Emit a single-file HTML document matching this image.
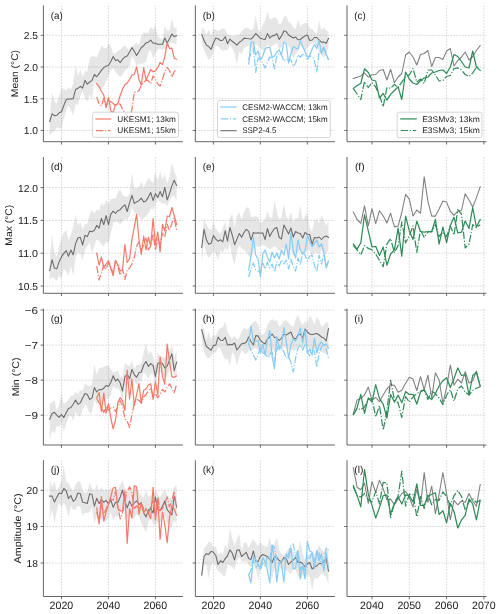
<!DOCTYPE html>
<html><head><meta charset="utf-8"><title>Figure</title>
<style>html,body{margin:0;padding:0;background:#fff;}body{width:500px;height:614px;overflow:hidden;font-family:"Liberation Sans",sans-serif;}svg{display:block;}</style>
</head><body>
<svg width="500" height="614" viewBox="0 0 500 614" font-family="'Liberation Sans', sans-serif">
<g style="will-change:transform;text-rendering:geometricPrecision">
<g id="p_a">
<clipPath id="c_a"><rect x="43.4" y="5.4" width="139.5" height="136.3"/></clipPath>
<g clip-path="url(#c_a)">
<line x1="61.48" y1="5.4" x2="61.48" y2="141.7" stroke="#c4c4c4" stroke-width="0.66" stroke-dasharray="1.7 1.25"/>
<line x1="108.45" y1="5.4" x2="108.45" y2="141.7" stroke="#c4c4c4" stroke-width="0.66" stroke-dasharray="1.7 1.25"/>
<line x1="155.42" y1="5.4" x2="155.42" y2="141.7" stroke="#c4c4c4" stroke-width="0.66" stroke-dasharray="1.7 1.25"/>
<line x1="43.4" y1="35.30" x2="182.9" y2="35.30" stroke="#c4c4c4" stroke-width="0.66" stroke-dasharray="1.7 1.25"/>
<line x1="43.4" y1="67.00" x2="182.9" y2="67.00" stroke="#c4c4c4" stroke-width="0.66" stroke-dasharray="1.7 1.25"/>
<line x1="43.4" y1="98.75" x2="182.9" y2="98.75" stroke="#c4c4c4" stroke-width="0.66" stroke-dasharray="1.7 1.25"/>
<line x1="43.4" y1="130.45" x2="182.9" y2="130.45" stroke="#c4c4c4" stroke-width="0.66" stroke-dasharray="1.7 1.25"/>
<path d="M49.7 117.0 L52.1 92.5 L54.4 101.6 L56.8 103.7 L59.1 96.0 L61.5 88.3 L63.8 89.0 L66.2 90.4 L68.5 86.9 L70.9 89.7 L73.2 83.4 L75.6 64.9 L77.9 75.9 L80.3 69.1 L82.6 77.2 L85.0 70.4 L87.3 72.0 L89.7 58.2 L92.0 56.2 L94.4 56.5 L96.7 57.2 L99.1 52.0 L101.4 45.2 L103.8 47.8 L106.1 48.4 L108.5 43.6 L110.8 46.0 L113.2 53.2 L115.5 53.4 L117.8 51.0 L120.2 49.4 L122.5 47.0 L124.9 45.5 L127.2 48.1 L129.6 50.0 L131.9 47.1 L134.3 44.3 L136.6 42.9 L139.0 45.0 L141.3 35.9 L143.7 32.4 L146.0 32.4 L148.4 33.1 L150.7 26.8 L153.1 29.6 L155.4 25.4 L157.8 36.6 L160.1 38.0 L162.5 40.1 L164.8 26.1 L167.2 31.0 L169.5 30.3 L171.9 18.4 L174.2 28.2 L176.6 27.5 L176.6 45.0 L174.2 43.6 L171.9 42.9 L169.5 43.6 L167.2 47.1 L164.8 49.2 L162.5 49.9 L160.1 48.5 L157.8 49.2 L155.4 53.4 L153.1 58.3 L150.7 49.9 L148.4 52.0 L146.0 61.8 L143.7 63.2 L141.3 63.9 L139.0 63.2 L136.6 66.0 L134.3 59.7 L131.9 56.2 L129.6 66.0 L127.2 69.0 L124.9 70.3 L122.5 74.5 L120.2 77.0 L117.8 74.6 L115.5 71.7 L113.2 68.2 L110.8 70.0 L108.5 76.0 L106.1 81.0 L103.8 86.5 L101.4 88.0 L99.1 89.0 L96.7 85.0 L94.4 82.0 L92.0 99.5 L89.7 94.5 L87.3 101.5 L85.0 98.0 L82.6 91.0 L80.3 96.0 L77.9 105.0 L75.6 104.0 L73.2 115.5 L70.9 110.0 L68.5 105.0 L66.2 110.7 L63.8 118.4 L61.5 128.9 L59.1 128.2 L56.8 127.5 L54.4 131.0 L52.1 132.4 L49.7 135.9 Z" fill="#808080" fill-opacity="0.2"/>
<path d="M49.7 121.5 L52.1 113.8 L54.4 115.6 L56.8 115.3 L59.1 112.8 L61.5 111.7 L63.8 105.5 L66.2 99.6 L68.5 99.0 L70.9 99.0 L73.2 98.6 L75.6 89.4 L77.9 88.3 L80.3 86.3 L82.6 88.1 L85.0 80.4 L87.3 84.2 L89.7 82.0 L92.0 80.4 L94.4 74.5 L96.7 76.8 L99.1 73.6 L101.4 70.4 L103.8 67.5 L106.1 66.1 L108.5 65.5 L110.8 61.5 L113.2 56.6 L115.5 60.6 L117.8 59.8 L120.2 62.7 L122.5 59.2 L124.9 57.1 L127.2 56.0 L129.6 52.0 L131.9 47.5 L134.3 51.3 L136.6 55.5 L139.0 51.6 L141.3 47.5 L143.7 45.7 L146.0 42.9 L148.4 42.2 L150.7 40.1 L153.1 43.3 L155.4 43.3 L157.8 44.3 L160.1 44.3 L162.5 44.3 L164.8 38.0 L167.2 42.9 L169.5 38.7 L171.9 34.1 L174.2 36.6 L176.6 35.6" fill="none" stroke="#6c6c6c" stroke-width="1.08" stroke-linejoin="round" stroke-linecap="square"/>
<path d="M96.7 83.7 L99.1 86.6 L101.4 91.3 L103.8 95.0 L106.1 107.5 L108.5 97.3 L110.8 111.0 L113.2 112.4 L115.5 104.7 L117.8 104.0 L120.2 95.4 L122.5 89.3 L124.9 84.8 L127.2 83.1 L129.6 79.5 L131.9 75.2 L134.3 74.5 L136.6 66.8 L139.0 79.8 L141.3 85.1 L143.7 67.5 L146.0 80.0 L148.4 74.8 L150.7 69.6 L153.1 71.7 L155.4 70.9 L157.8 67.4 L160.1 62.5 L162.5 64.6 L164.8 56.9 L167.2 42.9 L169.5 48.5 L171.9 48.1 L174.2 58.3 L176.6 59.3" fill="none" stroke="#f5796a" stroke-width="1.22" stroke-linejoin="round" stroke-linecap="square"/>
<path d="M96.7 97.0 L99.1 104.0 L101.4 106.1 L103.8 98.4 L106.1 106.8 L108.5 99.8 L110.8 101.9 L113.2 103.3 L115.5 106.1 L117.8 104.0 L120.2 104.0 L122.5 109.6 L124.9 112.4 L127.2 116.0 L129.6 118.0 L131.9 109.6 L134.3 92.1 L136.6 92.1 L139.0 90.7 L141.3 85.1 L143.7 82.3 L146.0 80.2 L148.4 80.9 L150.7 83.7 L153.1 76.0 L155.4 79.0 L157.8 84.0 L160.1 86.0 L162.5 79.5 L164.8 71.6 L167.2 67.4 L169.5 70.5 L171.9 76.9 L174.2 71.6 L176.6 69.5" fill="none" stroke="#f5796a" stroke-width="1.22" stroke-linejoin="round" stroke-dasharray="7.3 1.8 1.15 1.8"/>
</g>
<path d="M43.40 5.4 V141.70 H182.9" fill="none" stroke="#4a4a4a" stroke-width="0.85"/>
<line x1="61.48" y1="141.7" x2="61.48" y2="144.5" stroke="#4a4a4a" stroke-width="0.8"/>
<line x1="108.45" y1="141.7" x2="108.45" y2="144.5" stroke="#4a4a4a" stroke-width="0.8"/>
<line x1="155.42" y1="141.7" x2="155.42" y2="144.5" stroke="#4a4a4a" stroke-width="0.8"/>
<line x1="40.6" y1="35.30" x2="43.4" y2="35.30" stroke="#4a4a4a" stroke-width="0.8"/>
<text x="38.0" y="39.2" font-size="10.1" text-anchor="end" fill="#1a1a1a" textLength="14.3" lengthAdjust="spacingAndGlyphs">2.5</text>
<line x1="40.6" y1="67.00" x2="43.4" y2="67.00" stroke="#4a4a4a" stroke-width="0.8"/>
<text x="38.0" y="70.9" font-size="10.1" text-anchor="end" fill="#1a1a1a" textLength="14.3" lengthAdjust="spacingAndGlyphs">2.0</text>
<line x1="40.6" y1="98.75" x2="43.4" y2="98.75" stroke="#4a4a4a" stroke-width="0.8"/>
<text x="38.0" y="102.7" font-size="10.1" text-anchor="end" fill="#1a1a1a" textLength="14.3" lengthAdjust="spacingAndGlyphs">1.5</text>
<line x1="40.6" y1="130.45" x2="43.4" y2="130.45" stroke="#4a4a4a" stroke-width="0.8"/>
<text x="38.0" y="134.3" font-size="10.1" text-anchor="end" fill="#1a1a1a" textLength="14.3" lengthAdjust="spacingAndGlyphs">1.0</text>
<text x="50.7" y="18.6" font-size="10.1" fill="#1a1a1a" textLength="12.0" lengthAdjust="spacingAndGlyphs">(a)</text>
<text transform="translate(18.1 73.6) rotate(-90)" font-size="9.7" text-anchor="middle" fill="#1a1a1a" textLength="47.3" lengthAdjust="spacingAndGlyphs">Mean (°C)</text>
</g>
<g id="p_b">
<clipPath id="c_b"><rect x="195.3" y="5.4" width="139.5" height="136.3"/></clipPath>
<g clip-path="url(#c_b)">
<line x1="213.43" y1="5.4" x2="213.43" y2="141.7" stroke="#c4c4c4" stroke-width="0.66" stroke-dasharray="1.7 1.25"/>
<line x1="260.40" y1="5.4" x2="260.40" y2="141.7" stroke="#c4c4c4" stroke-width="0.66" stroke-dasharray="1.7 1.25"/>
<line x1="307.37" y1="5.4" x2="307.37" y2="141.7" stroke="#c4c4c4" stroke-width="0.66" stroke-dasharray="1.7 1.25"/>
<line x1="195.3" y1="35.30" x2="334.9" y2="35.30" stroke="#c4c4c4" stroke-width="0.66" stroke-dasharray="1.7 1.25"/>
<line x1="195.3" y1="67.00" x2="334.9" y2="67.00" stroke="#c4c4c4" stroke-width="0.66" stroke-dasharray="1.7 1.25"/>
<line x1="195.3" y1="98.75" x2="334.9" y2="98.75" stroke="#c4c4c4" stroke-width="0.66" stroke-dasharray="1.7 1.25"/>
<line x1="195.3" y1="130.45" x2="334.9" y2="130.45" stroke="#c4c4c4" stroke-width="0.66" stroke-dasharray="1.7 1.25"/>
<path d="M201.7 27.6 L204.0 29.7 L206.4 34.6 L208.7 29.7 L211.1 36.0 L213.4 29.0 L215.8 29.7 L218.1 31.1 L220.5 29.7 L222.8 28.3 L225.2 29.7 L227.5 34.6 L229.9 35.3 L232.2 36.0 L234.6 36.0 L236.9 35.3 L239.3 34.6 L241.6 31.1 L244.0 29.0 L246.3 27.5 L248.7 28.4 L251.0 30.2 L253.4 29.3 L255.7 14.9 L258.1 29.3 L260.4 32.0 L262.8 24.8 L265.1 20.3 L267.4 11.8 L269.8 19.4 L272.1 18.5 L274.5 17.2 L276.8 18.5 L279.2 24.8 L281.5 23.0 L283.9 16.7 L286.2 15.8 L288.6 22.1 L290.9 23.0 L293.3 27.5 L295.6 29.3 L298.0 19.8 L300.3 26.6 L302.7 23.9 L305.0 23.0 L307.4 23.0 L309.7 28.4 L312.1 29.3 L314.4 32.0 L316.8 34.7 L319.1 20.8 L321.5 30.2 L323.8 27.5 L326.2 30.2 L328.5 32.0 L328.5 48.0 L326.2 54.0 L323.8 58.0 L321.5 55.0 L319.1 52.0 L316.8 47.0 L314.4 43.0 L312.1 43.5 L309.7 45.0 L307.4 47.5 L305.0 52.0 L302.7 48.0 L300.3 45.0 L298.0 51.0 L295.6 54.0 L293.3 58.0 L290.9 52.5 L288.6 46.0 L286.2 42.0 L283.9 41.0 L281.5 47.0 L279.2 50.0 L276.8 43.0 L274.5 45.0 L272.1 46.0 L269.8 48.0 L267.4 44.0 L265.1 52.0 L262.8 50.0 L260.4 49.0 L258.1 46.0 L255.7 44.0 L253.4 48.0 L251.0 47.0 L248.7 46.0 L246.3 46.5 L244.0 47.9 L241.6 54.2 L239.3 51.4 L236.9 64.7 L234.6 52.8 L232.2 48.6 L229.9 45.1 L227.5 50.0 L225.2 50.0 L222.8 50.7 L220.5 49.3 L218.1 46.5 L215.8 45.1 L213.4 51.4 L211.1 57.7 L208.7 59.8 L206.4 55.6 L204.0 50.0 L201.7 41.6 Z" fill="#808080" fill-opacity="0.2"/>
<path d="M201.7 34.6 L204.0 40.2 L206.4 45.1 L208.7 46.5 L211.1 49.3 L213.4 43.0 L215.8 38.1 L218.1 38.8 L220.5 40.5 L222.8 40.2 L225.2 36.7 L227.5 43.7 L229.9 39.1 L232.2 41.3 L234.6 43.0 L236.9 45.1 L239.3 42.3 L241.6 40.9 L244.0 38.1 L246.3 38.5 L248.7 38.8 L251.0 39.0 L253.4 36.8 L255.7 33.5 L258.1 35.8 L260.4 38.3 L262.8 39.0 L265.1 39.5 L267.4 33.6 L269.8 38.1 L272.1 35.9 L274.5 35.4 L276.8 33.6 L279.2 39.5 L281.5 35.9 L283.9 30.9 L286.2 31.6 L288.6 35.0 L290.9 36.5 L293.3 38.0 L295.6 37.0 L298.0 39.8 L300.3 39.5 L302.7 37.5 L305.0 36.0 L307.4 35.0 L309.7 40.5 L312.1 40.0 L314.4 37.5 L316.8 37.5 L319.1 40.0 L321.5 42.2 L323.8 42.0 L326.2 43.2 L328.5 38.5" fill="none" stroke="#6c6c6c" stroke-width="1.08" stroke-linejoin="round" stroke-linecap="square"/>
<path d="M248.7 64.0 L251.0 42.0 L253.4 42.0 L255.7 55.0 L258.1 51.0 L260.4 60.0 L262.8 56.0 L265.1 49.0 L267.4 47.5 L269.8 47.5 L272.1 57.0 L274.5 56.0 L276.8 52.0 L279.2 50.0 L281.5 55.0 L283.9 42.0 L286.2 43.5 L288.6 63.0 L290.9 54.0 L293.3 46.5 L295.6 48.0 L298.0 49.0 L300.3 40.5 L302.7 46.5 L305.0 51.5 L307.4 57.0 L309.7 55.5 L312.1 49.0 L314.4 44.5 L316.8 48.5 L319.1 40.5 L321.5 53.5 L323.8 47.0 L326.2 54.0 L328.5 59.5" fill="none" stroke="#85ccf5" stroke-width="1.22" stroke-linejoin="round" stroke-linecap="square"/>
<path d="M248.7 60.0 L251.0 53.0 L253.4 48.0 L255.7 72.5 L258.1 58.0 L260.4 60.0 L262.8 63.0 L265.1 68.0 L267.4 62.0 L269.8 57.0 L272.1 58.0 L274.5 69.0 L276.8 56.0 L279.2 53.0 L281.5 55.0 L283.9 61.0 L286.2 59.0 L288.6 60.0 L290.9 60.0 L293.3 66.5 L295.6 63.0 L298.0 55.0 L300.3 57.0 L302.7 54.5 L305.0 55.0 L307.4 59.5 L309.7 56.0 L312.1 57.0 L314.4 60.5 L316.8 72.0 L319.1 52.0 L321.5 51.0 L323.8 48.0 L326.2 55.0 L328.5 60.0" fill="none" stroke="#85ccf5" stroke-width="1.22" stroke-linejoin="round" stroke-dasharray="7.3 1.8 1.15 1.8"/>
</g>
<path d="M195.35 5.4 V141.70 H334.9" fill="none" stroke="#4a4a4a" stroke-width="0.85"/>
<line x1="213.43" y1="141.7" x2="213.43" y2="144.5" stroke="#4a4a4a" stroke-width="0.8"/>
<line x1="260.40" y1="141.7" x2="260.40" y2="144.5" stroke="#4a4a4a" stroke-width="0.8"/>
<line x1="307.37" y1="141.7" x2="307.37" y2="144.5" stroke="#4a4a4a" stroke-width="0.8"/>
<line x1="192.6" y1="35.30" x2="195.3" y2="35.30" stroke="#4a4a4a" stroke-width="0.8"/>
<line x1="192.6" y1="67.00" x2="195.3" y2="67.00" stroke="#4a4a4a" stroke-width="0.8"/>
<line x1="192.6" y1="98.75" x2="195.3" y2="98.75" stroke="#4a4a4a" stroke-width="0.8"/>
<line x1="192.6" y1="130.45" x2="195.3" y2="130.45" stroke="#4a4a4a" stroke-width="0.8"/>
<text x="202.7" y="18.6" font-size="10.1" fill="#1a1a1a" textLength="12.2" lengthAdjust="spacingAndGlyphs">(b)</text>
</g>
<g id="p_c">
<clipPath id="c_c"><rect x="347.0" y="5.4" width="139.5" height="136.3"/></clipPath>
<g clip-path="url(#c_c)">
<line x1="371.99" y1="5.4" x2="371.99" y2="141.7" stroke="#c4c4c4" stroke-width="0.66" stroke-dasharray="1.7 1.25"/>
<line x1="409.29" y1="5.4" x2="409.29" y2="141.7" stroke="#c4c4c4" stroke-width="0.66" stroke-dasharray="1.7 1.25"/>
<line x1="446.59" y1="5.4" x2="446.59" y2="141.7" stroke="#c4c4c4" stroke-width="0.66" stroke-dasharray="1.7 1.25"/>
<line x1="483.89" y1="5.4" x2="483.89" y2="141.7" stroke="#c4c4c4" stroke-width="0.66" stroke-dasharray="1.7 1.25"/>
<line x1="347.0" y1="35.30" x2="486.5" y2="35.30" stroke="#c4c4c4" stroke-width="0.66" stroke-dasharray="1.7 1.25"/>
<line x1="347.0" y1="67.00" x2="486.5" y2="67.00" stroke="#c4c4c4" stroke-width="0.66" stroke-dasharray="1.7 1.25"/>
<line x1="347.0" y1="98.75" x2="486.5" y2="98.75" stroke="#c4c4c4" stroke-width="0.66" stroke-dasharray="1.7 1.25"/>
<line x1="347.0" y1="130.45" x2="486.5" y2="130.45" stroke="#c4c4c4" stroke-width="0.66" stroke-dasharray="1.7 1.25"/>
<path d="M353.3 78.5 L357.1 77.2 L360.8 76.0 L364.5 73.0 L368.3 77.2 L372.0 74.8 L375.7 74.5 L379.5 70.5 L383.2 69.5 L386.9 80.0 L390.6 69.2 L394.4 82.8 L398.1 77.0 L401.8 73.5 L405.6 55.0 L409.3 52.0 L413.0 57.0 L416.8 65.0 L420.5 54.5 L424.2 53.5 L427.9 50.5 L431.7 66.5 L435.4 57.5 L439.1 57.5 L442.9 59.4 L446.6 51.0 L450.3 48.5 L454.0 66.0 L457.8 60.5 L461.5 57.0 L465.2 52.0 L469.0 60.0 L472.7 56.5 L476.4 50.5 L480.2 45.5" fill="none" stroke="#808080" stroke-width="1.08" stroke-linejoin="round" stroke-linecap="square"/>
<path d="M353.3 88.5 L357.1 85.5 L360.8 83.5 L364.5 68.8 L368.3 72.5 L372.0 80.0 L375.7 81.0 L379.5 98.0 L383.2 93.4 L386.9 100.2 L390.6 94.4 L394.4 90.5 L398.1 86.9 L401.8 99.5 L405.6 72.0 L409.3 79.0 L413.0 83.0 L416.8 84.5 L420.5 80.5 L424.2 78.0 L427.9 77.0 L431.7 73.0 L435.4 72.0 L439.1 70.5 L442.9 70.0 L446.6 73.5 L450.3 67.0 L454.0 54.5 L457.8 56.5 L461.5 61.5 L465.2 67.0 L469.0 68.0 L472.7 51.0 L476.4 67.0 L480.2 70.5" fill="none" stroke="#2e8b57" stroke-width="1.22" stroke-linejoin="round" stroke-linecap="square"/>
<path d="M353.3 88.5 L357.1 94.0 L360.8 99.5 L364.5 81.5 L368.3 87.5 L372.0 82.5 L375.7 87.0 L379.5 95.5 L383.2 106.7 L386.9 87.6 L390.6 88.3 L394.4 84.4 L398.1 87.6 L401.8 82.2 L405.6 76.5 L409.3 75.0 L413.0 68.5 L416.8 82.0 L420.5 79.0 L424.2 83.5 L427.9 70.0 L431.7 70.0 L435.4 75.0 L439.1 81.0 L442.9 80.5 L446.6 76.5 L450.3 75.5 L454.0 68.5 L457.8 67.8 L461.5 70.0 L465.2 74.5 L469.0 76.5 L472.7 73.0 L476.4 67.5 L480.2 67.0" fill="none" stroke="#2e8b57" stroke-width="1.22" stroke-linejoin="round" stroke-dasharray="7.3 1.8 1.15 1.8"/>
</g>
<path d="M347.00 5.4 V141.70 H486.5" fill="none" stroke="#4a4a4a" stroke-width="0.85"/>
<line x1="371.99" y1="141.7" x2="371.99" y2="144.5" stroke="#4a4a4a" stroke-width="0.8"/>
<line x1="409.29" y1="141.7" x2="409.29" y2="144.5" stroke="#4a4a4a" stroke-width="0.8"/>
<line x1="446.59" y1="141.7" x2="446.59" y2="144.5" stroke="#4a4a4a" stroke-width="0.8"/>
<line x1="483.89" y1="141.7" x2="483.89" y2="144.5" stroke="#4a4a4a" stroke-width="0.8"/>
<line x1="344.2" y1="35.30" x2="347.0" y2="35.30" stroke="#4a4a4a" stroke-width="0.8"/>
<line x1="344.2" y1="67.00" x2="347.0" y2="67.00" stroke="#4a4a4a" stroke-width="0.8"/>
<line x1="344.2" y1="98.75" x2="347.0" y2="98.75" stroke="#4a4a4a" stroke-width="0.8"/>
<line x1="344.2" y1="130.45" x2="347.0" y2="130.45" stroke="#4a4a4a" stroke-width="0.8"/>
<text x="354.3" y="18.6" font-size="10.1" fill="#1a1a1a" textLength="11.4" lengthAdjust="spacingAndGlyphs">(c)</text>
</g>
<g id="p_d">
<clipPath id="c_d"><rect x="43.4" y="157.0" width="139.5" height="136.3"/></clipPath>
<g clip-path="url(#c_d)">
<line x1="61.48" y1="157.0" x2="61.48" y2="293.3" stroke="#c4c4c4" stroke-width="0.66" stroke-dasharray="1.7 1.25"/>
<line x1="108.45" y1="157.0" x2="108.45" y2="293.3" stroke="#c4c4c4" stroke-width="0.66" stroke-dasharray="1.7 1.25"/>
<line x1="155.42" y1="157.0" x2="155.42" y2="293.3" stroke="#c4c4c4" stroke-width="0.66" stroke-dasharray="1.7 1.25"/>
<line x1="43.4" y1="187.60" x2="182.9" y2="187.60" stroke="#c4c4c4" stroke-width="0.66" stroke-dasharray="1.7 1.25"/>
<line x1="43.4" y1="220.40" x2="182.9" y2="220.40" stroke="#c4c4c4" stroke-width="0.66" stroke-dasharray="1.7 1.25"/>
<line x1="43.4" y1="253.20" x2="182.9" y2="253.20" stroke="#c4c4c4" stroke-width="0.66" stroke-dasharray="1.7 1.25"/>
<line x1="43.4" y1="286.00" x2="182.9" y2="286.00" stroke="#c4c4c4" stroke-width="0.66" stroke-dasharray="1.7 1.25"/>
<path d="M49.7 261.8 L52.1 234.5 L54.4 253.4 L56.8 256.2 L59.1 246.4 L61.5 238.7 L63.8 232.4 L66.2 230.3 L68.5 240.1 L70.9 234.5 L73.2 226.8 L75.6 214.2 L77.9 225.4 L80.3 221.9 L82.6 229.6 L85.0 224.0 L87.3 224.0 L89.7 214.2 L92.0 210.0 L94.4 214.0 L96.7 209.0 L99.1 211.0 L101.4 203.0 L103.8 206.0 L106.1 200.0 L108.5 204.0 L110.8 199.0 L113.2 198.5 L115.5 198.5 L117.8 192.2 L120.2 189.4 L122.5 195.0 L124.9 196.4 L127.2 197.0 L129.6 193.6 L131.9 172.6 L134.3 188.0 L136.6 188.0 L139.0 187.3 L141.3 181.0 L143.7 188.0 L146.0 182.4 L148.4 177.5 L150.7 181.0 L153.1 183.1 L155.4 172.6 L157.8 180.3 L160.1 171.2 L162.5 179.6 L164.8 174.0 L167.2 183.8 L169.5 176.8 L171.9 162.8 L174.2 171.9 L176.6 176.8 L176.6 201.3 L174.2 195.7 L171.9 196.4 L169.5 200.6 L167.2 206.2 L164.8 202.7 L162.5 204.1 L160.1 202.0 L157.8 199.2 L155.4 204.8 L153.1 209.7 L150.7 208.3 L148.4 213.9 L146.0 216.0 L143.7 218.1 L141.3 220.2 L139.0 216.0 L136.6 213.9 L134.3 212.5 L131.9 207.6 L129.6 216.0 L127.2 220.2 L124.9 218.8 L122.5 221.6 L120.2 224.4 L117.8 222.3 L115.5 221.6 L113.2 223.0 L110.8 233.8 L108.5 243.6 L106.1 241.5 L103.8 246.4 L101.4 244.3 L99.1 240.8 L96.7 239.4 L94.4 245.0 L92.0 252.7 L89.7 242.2 L87.3 245.7 L85.0 250.6 L82.6 260.4 L80.3 253.4 L77.9 252.0 L75.6 257.6 L73.2 275.8 L70.9 266.0 L68.5 275.8 L66.2 271.6 L63.8 268.8 L61.5 278.6 L59.1 275.8 L56.8 281.0 L54.4 278.6 L52.1 277.0 L49.7 280.0 Z" fill="#808080" fill-opacity="0.2"/>
<path d="M49.7 270.5 L52.1 259.7 L54.4 268.1 L56.8 268.8 L59.1 261.8 L61.5 256.9 L63.8 253.4 L66.2 250.6 L68.5 256.2 L70.9 249.9 L73.2 254.8 L75.6 243.6 L77.9 238.0 L80.3 237.3 L82.6 245.0 L85.0 235.2 L87.3 236.6 L89.7 231.0 L92.0 231.7 L94.4 230.3 L96.7 225.4 L99.1 228.2 L101.4 218.4 L103.8 224.7 L106.1 215.6 L108.5 224.7 L110.8 214.2 L113.2 211.1 L115.5 213.5 L117.8 210.7 L120.2 209.7 L122.5 206.9 L124.9 204.8 L127.2 211.5 L129.6 202.7 L131.9 195.3 L134.3 203.4 L136.6 202.0 L139.0 200.6 L141.3 198.1 L143.7 202.0 L146.0 200.9 L148.4 197.1 L150.7 192.5 L153.1 200.6 L155.4 193.6 L157.8 197.5 L160.1 191.5 L162.5 196.7 L164.8 187.3 L167.2 199.9 L169.5 193.6 L171.9 185.9 L174.2 180.3 L176.6 185.5" fill="none" stroke="#6c6c6c" stroke-width="1.08" stroke-linejoin="round" stroke-linecap="square"/>
<path d="M96.7 253.3 L99.1 265.0 L101.4 257.0 L103.8 268.0 L106.1 264.0 L108.5 260.5 L110.8 268.5 L113.2 275.7 L115.5 260.3 L117.8 264.7 L120.2 271.0 L122.5 270.0 L124.9 244.5 L127.2 262.5 L129.6 258.5 L131.9 240.0 L134.3 227.0 L136.6 214.3 L139.0 240.0 L141.3 254.5 L143.7 236.0 L146.0 250.0 L148.4 237.0 L150.7 246.0 L153.1 218.5 L155.4 244.7 L157.8 232.0 L160.1 252.0 L162.5 224.3 L164.8 231.0 L167.2 216.0 L169.5 216.6 L171.9 207.5 L174.2 215.7 L176.6 224.3" fill="none" stroke="#f5796a" stroke-width="1.22" stroke-linejoin="round" stroke-linecap="square"/>
<path d="M96.7 266.0 L99.1 280.0 L101.4 273.0 L103.8 265.0 L106.1 269.0 L108.5 262.5 L110.8 267.0 L113.2 273.0 L115.5 261.0 L117.8 267.0 L120.2 275.0 L122.5 269.0 L124.9 279.5 L127.2 270.0 L129.6 268.0 L131.9 264.0 L134.3 257.0 L136.6 246.0 L139.0 242.0 L141.3 250.0 L143.7 245.0 L146.0 238.0 L148.4 250.0 L150.7 246.0 L153.1 234.0 L155.4 250.0 L157.8 238.0 L160.1 245.0 L162.5 233.0 L164.8 237.0 L167.2 224.0 L169.5 231.0 L171.9 223.0 L174.2 218.0 L176.6 230.0" fill="none" stroke="#f5796a" stroke-width="1.22" stroke-linejoin="round" stroke-dasharray="7.3 1.8 1.15 1.8"/>
</g>
<path d="M43.40 157.0 V293.30 H182.9" fill="none" stroke="#4a4a4a" stroke-width="0.85"/>
<line x1="61.48" y1="293.3" x2="61.48" y2="296.1" stroke="#4a4a4a" stroke-width="0.8"/>
<line x1="108.45" y1="293.3" x2="108.45" y2="296.1" stroke="#4a4a4a" stroke-width="0.8"/>
<line x1="155.42" y1="293.3" x2="155.42" y2="296.1" stroke="#4a4a4a" stroke-width="0.8"/>
<line x1="40.6" y1="187.60" x2="43.4" y2="187.60" stroke="#4a4a4a" stroke-width="0.8"/>
<text x="38.0" y="191.5" font-size="10.1" text-anchor="end" fill="#1a1a1a" textLength="20.0" lengthAdjust="spacingAndGlyphs">12.0</text>
<line x1="40.6" y1="220.40" x2="43.4" y2="220.40" stroke="#4a4a4a" stroke-width="0.8"/>
<text x="38.0" y="224.3" font-size="10.1" text-anchor="end" fill="#1a1a1a" textLength="20.0" lengthAdjust="spacingAndGlyphs">11.5</text>
<line x1="40.6" y1="253.20" x2="43.4" y2="253.20" stroke="#4a4a4a" stroke-width="0.8"/>
<text x="38.0" y="257.1" font-size="10.1" text-anchor="end" fill="#1a1a1a" textLength="20.0" lengthAdjust="spacingAndGlyphs">11.0</text>
<line x1="40.6" y1="286.00" x2="43.4" y2="286.00" stroke="#4a4a4a" stroke-width="0.8"/>
<text x="38.0" y="289.9" font-size="10.1" text-anchor="end" fill="#1a1a1a" textLength="20.0" lengthAdjust="spacingAndGlyphs">10.5</text>
<text x="50.7" y="170.2" font-size="10.1" fill="#1a1a1a" textLength="12.2" lengthAdjust="spacingAndGlyphs">(d)</text>
<text transform="translate(12.2 225.2) rotate(-90)" font-size="9.7" text-anchor="middle" fill="#1a1a1a" textLength="40.9" lengthAdjust="spacingAndGlyphs">Max (°C)</text>
</g>
<g id="p_e">
<clipPath id="c_e"><rect x="195.3" y="157.0" width="139.5" height="136.3"/></clipPath>
<g clip-path="url(#c_e)">
<line x1="213.43" y1="157.0" x2="213.43" y2="293.3" stroke="#c4c4c4" stroke-width="0.66" stroke-dasharray="1.7 1.25"/>
<line x1="260.40" y1="157.0" x2="260.40" y2="293.3" stroke="#c4c4c4" stroke-width="0.66" stroke-dasharray="1.7 1.25"/>
<line x1="307.37" y1="157.0" x2="307.37" y2="293.3" stroke="#c4c4c4" stroke-width="0.66" stroke-dasharray="1.7 1.25"/>
<line x1="195.3" y1="187.60" x2="334.9" y2="187.60" stroke="#c4c4c4" stroke-width="0.66" stroke-dasharray="1.7 1.25"/>
<line x1="195.3" y1="220.40" x2="334.9" y2="220.40" stroke="#c4c4c4" stroke-width="0.66" stroke-dasharray="1.7 1.25"/>
<line x1="195.3" y1="253.20" x2="334.9" y2="253.20" stroke="#c4c4c4" stroke-width="0.66" stroke-dasharray="1.7 1.25"/>
<line x1="195.3" y1="286.00" x2="334.9" y2="286.00" stroke="#c4c4c4" stroke-width="0.66" stroke-dasharray="1.7 1.25"/>
<path d="M201.7 241.0 L204.0 218.8 L206.4 224.4 L208.7 228.6 L211.1 230.0 L213.4 222.3 L215.8 228.6 L218.1 232.0 L220.5 234.0 L222.8 228.6 L225.2 221.6 L227.5 231.0 L229.9 218.0 L232.2 213.9 L234.6 228.0 L236.9 216.0 L239.3 212.5 L241.6 219.7 L244.0 212.1 L246.3 207.4 L248.7 207.4 L251.0 216.9 L253.4 216.9 L255.7 215.9 L258.1 217.8 L260.4 223.5 L262.8 221.6 L265.1 218.8 L267.4 211.2 L269.8 217.8 L272.1 216.9 L274.5 200.3 L276.8 211.2 L279.2 219.7 L281.5 216.9 L283.9 203.6 L286.2 215.9 L288.6 219.7 L290.9 211.7 L293.3 222.6 L295.6 217.8 L298.0 218.8 L300.3 205.5 L302.7 220.7 L305.0 215.9 L307.4 213.0 L309.7 228.0 L312.1 232.0 L314.4 220.7 L316.8 219.7 L319.1 223.5 L321.5 215.0 L323.8 220.7 L326.2 225.4 L328.5 221.6 L328.5 249.2 L326.2 254.0 L323.8 253.0 L321.5 250.0 L319.1 254.0 L316.8 253.0 L314.4 252.0 L312.1 258.0 L309.7 250.1 L307.4 251.0 L305.0 252.0 L302.7 255.0 L300.3 250.0 L298.0 253.0 L295.6 252.0 L293.3 256.0 L290.9 249.0 L288.6 254.0 L286.2 250.0 L283.9 248.0 L281.5 250.0 L279.2 251.0 L276.8 248.0 L274.5 246.3 L272.1 248.0 L269.8 249.2 L267.4 247.5 L265.1 246.0 L262.8 245.0 L260.4 246.0 L258.1 247.0 L255.7 246.0 L253.4 252.0 L251.0 257.7 L248.7 255.8 L246.3 252.0 L244.0 250.1 L241.6 248.2 L239.3 245.4 L236.9 251.0 L234.6 265.0 L232.2 256.6 L229.9 244.0 L227.5 251.0 L225.2 248.0 L222.8 252.4 L220.5 251.0 L218.1 259.4 L215.8 254.5 L213.4 251.0 L211.1 255.0 L208.7 258.0 L206.4 253.8 L204.0 243.0 L201.7 262.0 Z" fill="#808080" fill-opacity="0.2"/>
<path d="M201.7 247.5 L204.0 229.3 L206.4 239.8 L208.7 244.3 L211.1 243.3 L213.4 235.6 L215.8 239.1 L218.1 241.2 L220.5 239.8 L222.8 241.9 L225.2 230.7 L227.5 241.2 L229.9 227.5 L232.2 234.9 L234.6 244.7 L236.9 239.1 L239.3 233.5 L241.6 237.3 L244.0 232.5 L246.3 229.4 L248.7 231.3 L251.0 240.0 L253.4 232.5 L255.7 233.2 L258.1 232.8 L260.4 233.2 L262.8 232.8 L265.1 239.6 L267.4 228.5 L269.8 236.5 L272.1 232.0 L274.5 228.5 L276.8 227.5 L279.2 237.5 L281.5 239.0 L283.9 225.0 L286.2 229.3 L288.6 234.0 L290.9 228.0 L293.3 237.0 L295.6 231.5 L298.0 233.0 L300.3 233.5 L302.7 238.0 L305.0 232.5 L307.4 234.2 L309.7 234.5 L312.1 244.5 L314.4 237.5 L316.8 238.0 L319.1 237.0 L321.5 239.5 L323.8 237.0 L326.2 236.0 L328.5 237.5" fill="none" stroke="#6c6c6c" stroke-width="1.08" stroke-linejoin="round" stroke-linecap="square"/>
<path d="M248.7 270.0 L251.0 256.0 L253.4 237.5 L255.7 255.0 L258.1 259.0 L260.4 277.0 L262.8 254.0 L265.1 250.0 L267.4 257.0 L269.8 262.0 L272.1 252.0 L274.5 258.0 L276.8 253.0 L279.2 259.0 L281.5 250.0 L283.9 255.0 L286.2 244.0 L288.6 259.0 L290.9 233.0 L293.3 251.0 L295.6 258.0 L298.0 240.0 L300.3 250.0 L302.7 254.0 L305.0 251.0 L307.4 235.5 L309.7 241.0 L312.1 246.5 L314.4 244.0 L316.8 240.0 L319.1 247.0 L321.5 244.0 L323.8 252.0 L326.2 268.0 L328.5 261.0" fill="none" stroke="#85ccf5" stroke-width="1.22" stroke-linejoin="round" stroke-linecap="square"/>
<path d="M248.7 277.0 L251.0 269.0 L253.4 263.0 L255.7 270.0 L258.1 271.0 L260.4 273.0 L262.8 263.0 L265.1 269.0 L267.4 262.0 L269.8 268.0 L272.1 264.0 L274.5 272.0 L276.8 262.0 L279.2 266.0 L281.5 260.0 L283.9 264.0 L286.2 260.0 L288.6 269.0 L290.9 259.0 L293.3 267.0 L295.6 271.0 L298.0 258.0 L300.3 265.0 L302.7 252.0 L305.0 255.0 L307.4 261.0 L309.7 256.0 L312.1 255.5 L314.4 265.0 L316.8 272.0 L319.1 255.0 L321.5 264.0 L323.8 254.0 L326.2 266.0 L328.5 261.0" fill="none" stroke="#85ccf5" stroke-width="1.22" stroke-linejoin="round" stroke-dasharray="7.3 1.8 1.15 1.8"/>
</g>
<path d="M195.35 157.0 V293.30 H334.9" fill="none" stroke="#4a4a4a" stroke-width="0.85"/>
<line x1="213.43" y1="293.3" x2="213.43" y2="296.1" stroke="#4a4a4a" stroke-width="0.8"/>
<line x1="260.40" y1="293.3" x2="260.40" y2="296.1" stroke="#4a4a4a" stroke-width="0.8"/>
<line x1="307.37" y1="293.3" x2="307.37" y2="296.1" stroke="#4a4a4a" stroke-width="0.8"/>
<line x1="192.6" y1="187.60" x2="195.3" y2="187.60" stroke="#4a4a4a" stroke-width="0.8"/>
<line x1="192.6" y1="220.40" x2="195.3" y2="220.40" stroke="#4a4a4a" stroke-width="0.8"/>
<line x1="192.6" y1="253.20" x2="195.3" y2="253.20" stroke="#4a4a4a" stroke-width="0.8"/>
<line x1="192.6" y1="286.00" x2="195.3" y2="286.00" stroke="#4a4a4a" stroke-width="0.8"/>
<text x="202.7" y="170.2" font-size="10.1" fill="#1a1a1a" textLength="12.0" lengthAdjust="spacingAndGlyphs">(e)</text>
</g>
<g id="p_f">
<clipPath id="c_f"><rect x="347.0" y="157.0" width="139.5" height="136.3"/></clipPath>
<g clip-path="url(#c_f)">
<line x1="371.99" y1="157.0" x2="371.99" y2="293.3" stroke="#c4c4c4" stroke-width="0.66" stroke-dasharray="1.7 1.25"/>
<line x1="409.29" y1="157.0" x2="409.29" y2="293.3" stroke="#c4c4c4" stroke-width="0.66" stroke-dasharray="1.7 1.25"/>
<line x1="446.59" y1="157.0" x2="446.59" y2="293.3" stroke="#c4c4c4" stroke-width="0.66" stroke-dasharray="1.7 1.25"/>
<line x1="483.89" y1="157.0" x2="483.89" y2="293.3" stroke="#c4c4c4" stroke-width="0.66" stroke-dasharray="1.7 1.25"/>
<line x1="347.0" y1="187.60" x2="486.5" y2="187.60" stroke="#c4c4c4" stroke-width="0.66" stroke-dasharray="1.7 1.25"/>
<line x1="347.0" y1="220.40" x2="486.5" y2="220.40" stroke="#c4c4c4" stroke-width="0.66" stroke-dasharray="1.7 1.25"/>
<line x1="347.0" y1="253.20" x2="486.5" y2="253.20" stroke="#c4c4c4" stroke-width="0.66" stroke-dasharray="1.7 1.25"/>
<line x1="347.0" y1="286.00" x2="486.5" y2="286.00" stroke="#c4c4c4" stroke-width="0.66" stroke-dasharray="1.7 1.25"/>
<path d="M353.3 212.1 L357.1 219.5 L360.8 223.3 L364.5 205.9 L368.3 225.8 L372.0 208.7 L375.7 223.7 L379.5 210.7 L383.2 216.0 L386.9 223.0 L390.6 213.2 L394.4 226.9 L398.1 226.1 L401.8 212.5 L405.6 194.3 L409.3 199.2 L413.0 216.0 L416.8 210.0 L420.5 213.3 L424.2 176.9 L427.9 201.4 L431.7 216.1 L435.4 216.1 L439.1 209.1 L442.9 201.1 L446.6 202.1 L450.3 211.2 L454.0 215.4 L457.8 211.2 L461.5 210.5 L465.2 193.7 L469.0 200.0 L472.7 207.0 L476.4 197.9 L480.2 186.7" fill="none" stroke="#808080" stroke-width="1.08" stroke-linejoin="round" stroke-linecap="square"/>
<path d="M353.3 244.2 L357.1 249.1 L360.8 242.8 L364.5 214.8 L368.3 230.9 L372.0 247.0 L375.7 246.3 L379.5 255.4 L383.2 247.0 L386.9 265.2 L390.6 254.0 L394.4 249.8 L398.1 228.1 L401.8 256.1 L405.6 216.2 L409.3 230.9 L413.0 239.5 L416.8 221.0 L420.5 231.5 L424.2 232.2 L427.9 231.5 L431.7 231.5 L435.4 219.5 L439.1 244.2 L442.9 227.0 L446.6 242.7 L450.3 225.5 L454.0 217.2 L457.8 233.0 L461.5 232.2 L465.2 221.0 L469.0 228.5 L472.7 207.5 L476.4 227.0 L480.2 219.5" fill="none" stroke="#2e8b57" stroke-width="1.22" stroke-linejoin="round" stroke-linecap="square"/>
<path d="M353.3 245.6 L357.1 249.8 L360.8 254.7 L364.5 245.6 L368.3 248.4 L372.0 249.8 L375.7 254.0 L379.5 260.3 L383.2 266.6 L386.9 244.2 L390.6 238.6 L394.4 252.6 L398.1 245.6 L401.8 221.8 L405.6 242.8 L409.3 235.8 L413.0 226.0 L416.8 252.5 L420.5 230.0 L424.2 237.5 L427.9 232.0 L431.7 232.0 L435.4 224.7 L439.1 236.7 L442.9 232.0 L446.6 236.7 L450.3 226.0 L454.0 235.0 L457.8 209.7 L461.5 214.0 L465.2 248.0 L469.0 244.0 L472.7 224.7 L476.4 227.7 L480.2 224.7" fill="none" stroke="#2e8b57" stroke-width="1.22" stroke-linejoin="round" stroke-dasharray="7.3 1.8 1.15 1.8"/>
</g>
<path d="M347.00 157.0 V293.30 H486.5" fill="none" stroke="#4a4a4a" stroke-width="0.85"/>
<line x1="371.99" y1="293.3" x2="371.99" y2="296.1" stroke="#4a4a4a" stroke-width="0.8"/>
<line x1="409.29" y1="293.3" x2="409.29" y2="296.1" stroke="#4a4a4a" stroke-width="0.8"/>
<line x1="446.59" y1="293.3" x2="446.59" y2="296.1" stroke="#4a4a4a" stroke-width="0.8"/>
<line x1="483.89" y1="293.3" x2="483.89" y2="296.1" stroke="#4a4a4a" stroke-width="0.8"/>
<line x1="344.2" y1="187.60" x2="347.0" y2="187.60" stroke="#4a4a4a" stroke-width="0.8"/>
<line x1="344.2" y1="220.40" x2="347.0" y2="220.40" stroke="#4a4a4a" stroke-width="0.8"/>
<line x1="344.2" y1="253.20" x2="347.0" y2="253.20" stroke="#4a4a4a" stroke-width="0.8"/>
<line x1="344.2" y1="286.00" x2="347.0" y2="286.00" stroke="#4a4a4a" stroke-width="0.8"/>
<text x="354.9" y="170.2" font-size="10.1" fill="#1a1a1a" textLength="9.7" lengthAdjust="spacingAndGlyphs">(f)</text>
</g>
<g id="p_g">
<clipPath id="c_g"><rect x="43.4" y="308.7" width="139.5" height="136.3"/></clipPath>
<g clip-path="url(#c_g)">
<line x1="61.48" y1="308.7" x2="61.48" y2="445.0" stroke="#c4c4c4" stroke-width="0.66" stroke-dasharray="1.7 1.25"/>
<line x1="108.45" y1="308.7" x2="108.45" y2="445.0" stroke="#c4c4c4" stroke-width="0.66" stroke-dasharray="1.7 1.25"/>
<line x1="155.42" y1="308.7" x2="155.42" y2="445.0" stroke="#c4c4c4" stroke-width="0.66" stroke-dasharray="1.7 1.25"/>
<line x1="43.4" y1="310.00" x2="182.9" y2="310.00" stroke="#c4c4c4" stroke-width="0.66" stroke-dasharray="1.7 1.25"/>
<line x1="43.4" y1="345.10" x2="182.9" y2="345.10" stroke="#c4c4c4" stroke-width="0.66" stroke-dasharray="1.7 1.25"/>
<line x1="43.4" y1="380.20" x2="182.9" y2="380.20" stroke="#c4c4c4" stroke-width="0.66" stroke-dasharray="1.7 1.25"/>
<line x1="43.4" y1="415.20" x2="182.9" y2="415.20" stroke="#c4c4c4" stroke-width="0.66" stroke-dasharray="1.7 1.25"/>
<path d="M49.7 403.6 L52.1 402.2 L54.4 400.1 L56.8 410.6 L59.1 405.0 L61.5 393.8 L63.8 404.3 L66.2 402.2 L68.5 399.4 L70.9 395.9 L73.2 395.2 L75.6 391.7 L77.9 394.5 L80.3 389.6 L82.6 391.0 L85.0 383.3 L87.3 385.4 L89.7 386.1 L92.0 384.0 L94.4 364.5 L96.7 374.9 L99.1 368.3 L101.4 367.7 L103.8 366.9 L106.1 365.8 L108.5 365.4 L110.8 369.2 L113.2 372.0 L115.5 372.0 L117.8 370.6 L120.2 376.2 L122.5 377.6 L124.9 362.9 L127.2 365.0 L129.6 366.4 L131.9 360.8 L134.3 369.2 L136.6 365.0 L139.0 365.0 L141.3 363.6 L143.7 352.4 L146.0 342.6 L148.4 354.5 L150.7 351.0 L153.1 356.6 L155.4 366.4 L157.8 353.1 L160.1 355.9 L162.5 356.6 L164.8 358.0 L167.2 357.0 L169.5 351.0 L171.9 345.4 L174.2 358.0 L176.6 351.0 L176.6 376.0 L174.2 379.0 L171.9 364.0 L169.5 370.6 L167.2 376.2 L164.8 377.6 L162.5 373.4 L160.1 372.0 L157.8 373.4 L155.4 386.0 L153.1 374.8 L150.7 373.4 L148.4 379.0 L146.0 374.8 L143.7 372.0 L141.3 380.4 L139.0 381.8 L136.6 384.6 L134.3 380.4 L131.9 378.3 L129.6 386.0 L127.2 383.9 L124.9 386.0 L122.5 400.0 L120.2 391.6 L117.8 388.1 L115.5 388.8 L113.2 386.0 L110.8 395.0 L108.5 399.0 L106.1 398.0 L103.8 401.0 L101.4 403.0 L99.1 402.2 L96.7 404.3 L94.4 399.4 L92.0 412.0 L89.7 413.4 L87.3 407.8 L85.0 404.3 L82.6 409.2 L80.3 416.9 L77.9 415.5 L75.6 412.0 L73.2 421.0 L70.9 414.8 L68.5 417.6 L66.2 423.2 L63.8 431.6 L61.5 423.2 L59.1 426.7 L56.8 426.0 L54.4 433.7 L52.1 430.2 L49.7 440.0 Z" fill="#808080" fill-opacity="0.2"/>
<path d="M49.7 419.3 L52.1 413.4 L54.4 412.3 L56.8 415.1 L59.1 417.3 L61.5 414.5 L63.8 417.6 L66.2 412.7 L68.5 408.5 L70.9 407.5 L73.2 404.3 L75.6 400.1 L77.9 404.3 L80.3 402.9 L82.6 398.0 L85.0 393.5 L87.3 394.5 L89.7 399.4 L92.0 398.0 L94.4 387.5 L96.7 392.0 L99.1 389.5 L101.4 389.8 L103.8 388.2 L106.1 385.5 L108.5 386.6 L110.8 382.4 L113.2 375.7 L115.5 381.0 L117.8 379.0 L120.2 383.0 L122.5 391.0 L124.9 376.7 L127.2 374.5 L129.6 378.6 L131.9 369.5 L134.3 374.6 L136.6 377.3 L139.0 372.8 L141.3 372.0 L143.7 365.0 L146.0 361.5 L148.4 366.4 L150.7 363.6 L153.1 365.7 L155.4 376.5 L157.8 363.6 L160.1 362.5 L162.5 363.6 L164.8 368.1 L167.2 366.1 L169.5 360.1 L171.9 353.8 L174.2 370.6 L176.6 362.2" fill="none" stroke="#6c6c6c" stroke-width="1.08" stroke-linejoin="round" stroke-linecap="square"/>
<path d="M96.7 398.0 L99.1 392.6 L101.4 411.5 L103.8 393.2 L106.1 413.1 L108.5 403.5 L110.8 418.0 L113.2 428.8 L115.5 420.0 L117.8 403.0 L120.2 397.6 L122.5 400.8 L124.9 410.5 L127.2 370.0 L129.6 399.0 L131.9 379.0 L134.3 405.5 L136.6 394.5 L139.0 383.5 L141.3 403.3 L143.7 390.2 L146.0 389.0 L148.4 385.0 L150.7 383.7 L153.1 399.3 L155.4 381.5 L157.8 394.7 L160.1 357.2 L162.5 376.5 L164.8 384.2 L167.2 344.0 L169.5 361.6 L171.9 376.6 L174.2 377.3 L176.6 376.0" fill="none" stroke="#f5796a" stroke-width="1.22" stroke-linejoin="round" stroke-linecap="square"/>
<path d="M96.7 398.5 L99.1 403.0 L101.4 406.6 L103.8 412.6 L106.1 406.0 L108.5 410.2 L110.8 407.8 L113.2 407.2 L115.5 411.4 L117.8 407.0 L120.2 400.6 L122.5 406.0 L124.9 418.6 L127.2 421.0 L129.6 427.6 L131.9 415.0 L134.3 403.0 L136.6 399.4 L139.0 400.5 L141.3 403.0 L143.7 397.0 L146.0 394.5 L148.4 391.0 L150.7 388.0 L153.1 396.0 L155.4 393.6 L157.8 397.8 L160.1 394.0 L162.5 389.5 L164.8 391.9 L167.2 387.5 L169.5 383.9 L171.9 388.3 L174.2 392.6 L176.6 384.5" fill="none" stroke="#f5796a" stroke-width="1.22" stroke-linejoin="round" stroke-dasharray="7.3 1.8 1.15 1.8"/>
</g>
<path d="M43.40 308.7 V445.00 H182.9" fill="none" stroke="#4a4a4a" stroke-width="0.85"/>
<line x1="61.48" y1="445.0" x2="61.48" y2="447.8" stroke="#4a4a4a" stroke-width="0.8"/>
<line x1="108.45" y1="445.0" x2="108.45" y2="447.8" stroke="#4a4a4a" stroke-width="0.8"/>
<line x1="155.42" y1="445.0" x2="155.42" y2="447.8" stroke="#4a4a4a" stroke-width="0.8"/>
<line x1="40.6" y1="310.00" x2="43.4" y2="310.00" stroke="#4a4a4a" stroke-width="0.8"/>
<text x="38.0" y="313.9" font-size="10.1" text-anchor="end" fill="#1a1a1a" textLength="13.3" lengthAdjust="spacingAndGlyphs">−6</text>
<line x1="40.6" y1="345.10" x2="43.4" y2="345.10" stroke="#4a4a4a" stroke-width="0.8"/>
<text x="38.0" y="349.0" font-size="10.1" text-anchor="end" fill="#1a1a1a" textLength="13.3" lengthAdjust="spacingAndGlyphs">−7</text>
<line x1="40.6" y1="380.20" x2="43.4" y2="380.20" stroke="#4a4a4a" stroke-width="0.8"/>
<text x="38.0" y="384.1" font-size="10.1" text-anchor="end" fill="#1a1a1a" textLength="13.3" lengthAdjust="spacingAndGlyphs">−8</text>
<line x1="40.6" y1="415.20" x2="43.4" y2="415.20" stroke="#4a4a4a" stroke-width="0.8"/>
<text x="38.0" y="419.1" font-size="10.1" text-anchor="end" fill="#1a1a1a" textLength="13.3" lengthAdjust="spacingAndGlyphs">−9</text>
<text x="50.7" y="321.9" font-size="10.1" fill="#1a1a1a" textLength="12.2" lengthAdjust="spacingAndGlyphs">(g)</text>
<text transform="translate(18.8 376.9) rotate(-90)" font-size="9.7" text-anchor="middle" fill="#1a1a1a" textLength="38.7" lengthAdjust="spacingAndGlyphs">Min (°C)</text>
</g>
<g id="p_h">
<clipPath id="c_h"><rect x="195.3" y="308.7" width="139.5" height="136.3"/></clipPath>
<g clip-path="url(#c_h)">
<line x1="213.43" y1="308.7" x2="213.43" y2="445.0" stroke="#c4c4c4" stroke-width="0.66" stroke-dasharray="1.7 1.25"/>
<line x1="260.40" y1="308.7" x2="260.40" y2="445.0" stroke="#c4c4c4" stroke-width="0.66" stroke-dasharray="1.7 1.25"/>
<line x1="307.37" y1="308.7" x2="307.37" y2="445.0" stroke="#c4c4c4" stroke-width="0.66" stroke-dasharray="1.7 1.25"/>
<line x1="195.3" y1="310.00" x2="334.9" y2="310.00" stroke="#c4c4c4" stroke-width="0.66" stroke-dasharray="1.7 1.25"/>
<line x1="195.3" y1="345.10" x2="334.9" y2="345.10" stroke="#c4c4c4" stroke-width="0.66" stroke-dasharray="1.7 1.25"/>
<line x1="195.3" y1="380.20" x2="334.9" y2="380.20" stroke="#c4c4c4" stroke-width="0.66" stroke-dasharray="1.7 1.25"/>
<line x1="195.3" y1="415.20" x2="334.9" y2="415.20" stroke="#c4c4c4" stroke-width="0.66" stroke-dasharray="1.7 1.25"/>
<path d="M201.7 323.4 L204.0 330.4 L206.4 339.5 L208.7 331.8 L211.1 339.5 L213.4 333.9 L215.8 336.0 L218.1 330.4 L220.5 328.3 L222.8 326.9 L225.2 321.3 L227.5 331.8 L229.9 336.0 L232.2 338.8 L234.6 336.0 L236.9 339.5 L239.3 337.4 L241.6 331.8 L244.0 327.6 L246.3 329.7 L248.7 328.3 L251.0 325.0 L253.4 322.0 L255.7 321.0 L258.1 324.0 L260.4 334.0 L262.8 335.0 L265.1 332.0 L267.4 325.0 L269.8 321.0 L272.1 319.0 L274.5 321.0 L276.8 320.0 L279.2 327.0 L281.5 324.0 L283.9 321.0 L286.2 320.0 L288.6 323.0 L290.9 325.0 L293.3 327.0 L295.6 319.0 L298.0 315.0 L300.3 321.0 L302.7 325.0 L305.0 321.0 L307.4 323.0 L309.7 315.0 L312.1 319.0 L314.4 325.0 L316.8 317.0 L319.1 320.0 L321.5 327.0 L323.8 325.0 L326.2 322.0 L328.5 323.0 L328.5 348.0 L326.2 354.0 L323.8 353.0 L321.5 352.0 L319.1 351.0 L316.8 350.0 L314.4 349.0 L312.1 350.0 L309.7 349.0 L307.4 347.0 L305.0 345.0 L302.7 350.0 L300.3 346.0 L298.0 347.0 L295.6 350.0 L293.3 351.0 L290.9 349.0 L288.6 350.0 L286.2 348.0 L283.9 347.0 L281.5 350.0 L279.2 351.0 L276.8 350.0 L274.5 352.0 L272.1 349.0 L269.8 358.0 L267.4 356.0 L265.1 355.0 L262.8 353.0 L260.4 352.0 L258.1 350.0 L255.7 348.0 L253.4 349.0 L251.0 351.0 L248.7 350.0 L246.3 354.2 L244.0 352.8 L241.6 350.0 L239.3 357.0 L236.9 365.4 L234.6 355.6 L232.2 352.0 L229.9 365.4 L227.5 358.4 L225.2 359.8 L222.8 354.2 L220.5 349.3 L218.1 347.2 L215.8 352.8 L213.4 352.8 L211.1 356.3 L208.7 358.4 L206.4 357.0 L204.0 351.4 L201.7 339.5 Z" fill="#808080" fill-opacity="0.2"/>
<path d="M201.7 329.7 L204.0 338.8 L206.4 346.5 L208.7 348.3 L211.1 350.3 L213.4 345.5 L215.8 345.1 L218.1 337.1 L220.5 340.2 L222.8 340.5 L225.2 337.4 L227.5 345.1 L229.9 344.4 L232.2 344.7 L234.6 343.0 L236.9 350.0 L239.3 346.9 L241.6 343.7 L244.0 343.4 L246.3 342.3 L248.7 337.1 L251.0 341.5 L253.4 345.0 L255.7 335.6 L258.1 335.9 L260.4 340.4 L262.8 342.4 L265.1 344.0 L267.4 339.0 L269.8 337.0 L272.1 334.0 L274.5 337.5 L276.8 337.8 L279.2 340.5 L281.5 338.0 L283.9 334.2 L286.2 335.0 L288.6 333.5 L290.9 332.0 L293.3 338.0 L295.6 339.0 L298.0 335.0 L300.3 334.0 L302.7 338.0 L305.0 329.0 L307.4 332.0 L309.7 334.0 L312.1 334.6 L314.4 334.0 L316.8 333.4 L319.1 335.0 L321.5 337.0 L323.8 338.0 L326.2 341.0 L328.5 328.6" fill="none" stroke="#6c6c6c" stroke-width="1.08" stroke-linejoin="round" stroke-linecap="square"/>
<path d="M248.7 344.0 L251.0 326.0 L253.4 341.0 L255.7 341.5 L258.1 340.5 L260.4 353.0 L262.8 344.0 L265.1 355.0 L267.4 340.0 L269.8 330.5 L272.1 357.0 L274.5 369.0 L276.8 336.5 L279.2 349.0 L281.5 345.0 L283.9 327.5 L286.2 341.0 L288.6 358.0 L290.9 345.0 L293.3 339.0 L295.6 341.0 L298.0 336.0 L300.3 328.0 L302.7 343.0 L305.0 330.0 L307.4 353.0 L309.7 349.0 L312.1 355.0 L314.4 338.0 L316.8 353.0 L319.1 345.0 L321.5 342.0 L323.8 345.0 L326.2 344.0 L328.5 348.0" fill="none" stroke="#85ccf5" stroke-width="1.22" stroke-linejoin="round" stroke-linecap="square"/>
<path d="M248.7 344.0 L251.0 350.0 L253.4 355.0 L255.7 360.0 L258.1 355.0 L260.4 347.0 L262.8 353.0 L265.1 354.0 L267.4 357.5 L269.8 354.0 L272.1 352.0 L274.5 362.0 L276.8 349.0 L279.2 346.0 L281.5 348.0 L283.9 352.0 L286.2 358.0 L288.6 357.0 L290.9 362.0 L293.3 372.0 L295.6 358.0 L298.0 348.0 L300.3 345.0 L302.7 350.0 L305.0 345.0 L307.4 352.0 L309.7 356.0 L312.1 350.0 L314.4 351.0 L316.8 367.0 L319.1 353.0 L321.5 347.0 L323.8 344.0 L326.2 349.0 L328.5 358.0" fill="none" stroke="#85ccf5" stroke-width="1.22" stroke-linejoin="round" stroke-dasharray="7.3 1.8 1.15 1.8"/>
</g>
<path d="M195.35 308.7 V445.00 H334.9" fill="none" stroke="#4a4a4a" stroke-width="0.85"/>
<line x1="213.43" y1="445.0" x2="213.43" y2="447.8" stroke="#4a4a4a" stroke-width="0.8"/>
<line x1="260.40" y1="445.0" x2="260.40" y2="447.8" stroke="#4a4a4a" stroke-width="0.8"/>
<line x1="307.37" y1="445.0" x2="307.37" y2="447.8" stroke="#4a4a4a" stroke-width="0.8"/>
<line x1="192.6" y1="310.00" x2="195.3" y2="310.00" stroke="#4a4a4a" stroke-width="0.8"/>
<line x1="192.6" y1="345.10" x2="195.3" y2="345.10" stroke="#4a4a4a" stroke-width="0.8"/>
<line x1="192.6" y1="380.20" x2="195.3" y2="380.20" stroke="#4a4a4a" stroke-width="0.8"/>
<line x1="192.6" y1="415.20" x2="195.3" y2="415.20" stroke="#4a4a4a" stroke-width="0.8"/>
<text x="202.7" y="321.9" font-size="10.1" fill="#1a1a1a" textLength="12.2" lengthAdjust="spacingAndGlyphs">(h)</text>
</g>
<g id="p_i">
<clipPath id="c_i"><rect x="347.0" y="308.7" width="139.5" height="136.3"/></clipPath>
<g clip-path="url(#c_i)">
<line x1="371.99" y1="308.7" x2="371.99" y2="445.0" stroke="#c4c4c4" stroke-width="0.66" stroke-dasharray="1.7 1.25"/>
<line x1="409.29" y1="308.7" x2="409.29" y2="445.0" stroke="#c4c4c4" stroke-width="0.66" stroke-dasharray="1.7 1.25"/>
<line x1="446.59" y1="308.7" x2="446.59" y2="445.0" stroke="#c4c4c4" stroke-width="0.66" stroke-dasharray="1.7 1.25"/>
<line x1="483.89" y1="308.7" x2="483.89" y2="445.0" stroke="#c4c4c4" stroke-width="0.66" stroke-dasharray="1.7 1.25"/>
<line x1="347.0" y1="310.00" x2="486.5" y2="310.00" stroke="#c4c4c4" stroke-width="0.66" stroke-dasharray="1.7 1.25"/>
<line x1="347.0" y1="345.10" x2="486.5" y2="345.10" stroke="#c4c4c4" stroke-width="0.66" stroke-dasharray="1.7 1.25"/>
<line x1="347.0" y1="380.20" x2="486.5" y2="380.20" stroke="#c4c4c4" stroke-width="0.66" stroke-dasharray="1.7 1.25"/>
<line x1="347.0" y1="415.20" x2="486.5" y2="415.20" stroke="#c4c4c4" stroke-width="0.66" stroke-dasharray="1.7 1.25"/>
<path d="M353.3 414.0 L357.1 400.0 L360.8 398.6 L364.5 395.1 L368.3 387.1 L372.0 400.0 L375.7 397.5 L379.5 401.7 L383.2 395.1 L386.9 388.8 L390.6 384.9 L394.4 385.3 L398.1 392.3 L401.8 390.2 L405.6 383.2 L409.3 377.3 L413.0 379.1 L416.8 390.5 L420.5 376.7 L424.2 389.7 L427.9 375.2 L431.7 398.0 L435.4 372.8 L439.1 380.0 L442.9 403.2 L446.6 387.5 L450.3 365.0 L454.0 385.2 L457.8 379.2 L461.5 383.0 L465.2 371.7 L469.0 383.0 L472.7 380.7 L476.4 371.0 L480.2 386.0" fill="none" stroke="#808080" stroke-width="1.08" stroke-linejoin="round" stroke-linecap="square"/>
<path d="M353.3 414.7 L357.1 407.7 L360.8 394.4 L364.5 413.3 L368.3 397.9 L372.0 402.1 L375.7 384.6 L379.5 398.6 L383.2 404.2 L386.9 418.2 L390.6 394.4 L394.4 402.1 L398.1 395.1 L401.8 402.8 L405.6 391.6 L409.3 394.4 L413.0 394.3 L416.8 404.0 L420.5 392.0 L424.2 389.7 L427.9 396.5 L431.7 399.5 L435.4 393.5 L439.1 386.0 L442.9 380.7 L446.6 377.7 L450.3 387.5 L454.0 378.5 L457.8 368.0 L461.5 375.5 L465.2 374.7 L469.0 395.0 L472.7 375.5 L476.4 372.5 L480.2 386.0" fill="none" stroke="#2e8b57" stroke-width="1.22" stroke-linejoin="round" stroke-linecap="square"/>
<path d="M353.3 414.7 L357.1 408.4 L360.8 409.8 L364.5 407.0 L368.3 399.3 L372.0 398.6 L375.7 416.8 L379.5 405.6 L383.2 430.1 L386.9 411.0 L390.6 380.4 L394.4 400.0 L398.1 402.8 L401.8 417.5 L405.6 396.5 L409.3 402.1 L413.0 397.0 L416.8 393.5 L420.5 391.2 L424.2 389.7 L427.9 399.5 L431.7 391.2 L435.4 393.5 L439.1 398.0 L442.9 404.7 L446.6 395.0 L450.3 389.7 L454.0 401.0 L457.8 389.0 L461.5 386.0 L465.2 392.0 L469.0 395.0 L472.7 390.5 L476.4 388.2 L480.2 386.7" fill="none" stroke="#2e8b57" stroke-width="1.22" stroke-linejoin="round" stroke-dasharray="7.3 1.8 1.15 1.8"/>
</g>
<path d="M347.00 308.7 V445.00 H486.5" fill="none" stroke="#4a4a4a" stroke-width="0.85"/>
<line x1="371.99" y1="445.0" x2="371.99" y2="447.8" stroke="#4a4a4a" stroke-width="0.8"/>
<line x1="409.29" y1="445.0" x2="409.29" y2="447.8" stroke="#4a4a4a" stroke-width="0.8"/>
<line x1="446.59" y1="445.0" x2="446.59" y2="447.8" stroke="#4a4a4a" stroke-width="0.8"/>
<line x1="483.89" y1="445.0" x2="483.89" y2="447.8" stroke="#4a4a4a" stroke-width="0.8"/>
<line x1="344.2" y1="310.00" x2="347.0" y2="310.00" stroke="#4a4a4a" stroke-width="0.8"/>
<line x1="344.2" y1="345.10" x2="347.0" y2="345.10" stroke="#4a4a4a" stroke-width="0.8"/>
<line x1="344.2" y1="380.20" x2="347.0" y2="380.20" stroke="#4a4a4a" stroke-width="0.8"/>
<line x1="344.2" y1="415.20" x2="347.0" y2="415.20" stroke="#4a4a4a" stroke-width="0.8"/>
<text x="354.3" y="321.9" font-size="10.1" fill="#1a1a1a" textLength="9.1" lengthAdjust="spacingAndGlyphs">(i)</text>
</g>
<g id="p_j">
<clipPath id="c_j"><rect x="43.4" y="460.2" width="139.5" height="136.3"/></clipPath>
<g clip-path="url(#c_j)">
<line x1="61.48" y1="460.2" x2="61.48" y2="596.5" stroke="#c4c4c4" stroke-width="0.66" stroke-dasharray="1.7 1.25"/>
<line x1="108.45" y1="460.2" x2="108.45" y2="596.5" stroke="#c4c4c4" stroke-width="0.66" stroke-dasharray="1.7 1.25"/>
<line x1="155.42" y1="460.2" x2="155.42" y2="596.5" stroke="#c4c4c4" stroke-width="0.66" stroke-dasharray="1.7 1.25"/>
<line x1="43.4" y1="490.30" x2="182.9" y2="490.30" stroke="#c4c4c4" stroke-width="0.66" stroke-dasharray="1.7 1.25"/>
<line x1="43.4" y1="526.50" x2="182.9" y2="526.50" stroke="#c4c4c4" stroke-width="0.66" stroke-dasharray="1.7 1.25"/>
<line x1="43.4" y1="563.00" x2="182.9" y2="563.00" stroke="#c4c4c4" stroke-width="0.66" stroke-dasharray="1.7 1.25"/>
<path d="M49.7 478.3 L52.1 487.4 L54.4 481.0 L56.8 490.9 L59.1 486.7 L61.5 481.0 L63.8 465.7 L66.2 481.8 L68.5 483.2 L70.9 487.4 L73.2 491.6 L75.6 484.6 L77.9 481.0 L80.3 481.8 L82.6 490.2 L85.0 493.0 L87.3 491.6 L89.7 482.5 L92.0 488.1 L94.4 491.6 L96.7 483.9 L99.1 491.6 L101.4 486.7 L103.8 490.9 L106.1 488.8 L108.5 490.9 L110.8 486.7 L113.2 493.0 L115.5 489.0 L117.8 490.0 L120.2 485.0 L122.5 480.0 L124.9 489.0 L127.2 494.0 L129.6 488.0 L131.9 493.0 L134.3 490.0 L136.6 488.0 L139.0 492.0 L141.3 496.0 L143.7 498.0 L146.0 490.0 L148.4 497.0 L150.7 495.0 L153.1 498.0 L155.4 490.0 L157.8 495.0 L160.1 497.0 L162.5 493.0 L164.8 489.0 L167.2 495.0 L169.5 498.0 L171.9 499.0 L174.2 487.0 L176.6 485.0 L176.6 524.5 L174.2 520.0 L171.9 527.0 L169.5 526.8 L167.2 524.0 L164.8 516.0 L162.5 520.0 L160.1 523.0 L157.8 522.0 L155.4 525.6 L153.1 524.5 L150.7 517.6 L148.4 522.0 L146.0 532.0 L143.7 528.0 L141.3 523.0 L139.0 516.5 L136.6 514.0 L134.3 518.0 L131.9 520.0 L129.6 516.0 L127.2 522.0 L124.9 515.0 L122.5 506.0 L120.2 512.0 L117.8 517.0 L115.5 516.0 L113.2 520.0 L110.8 512.6 L108.5 518.2 L106.1 521.0 L103.8 521.7 L101.4 518.2 L99.1 521.0 L96.7 515.4 L94.4 523.8 L92.0 507.0 L89.7 511.9 L87.3 513.3 L85.0 512.6 L82.6 516.1 L80.3 507.0 L77.9 505.6 L75.6 509.8 L73.2 509.8 L70.9 505.6 L68.5 516.8 L66.2 507.0 L63.8 502.8 L61.5 507.0 L59.1 502.8 L56.8 511.2 L54.4 522.4 L52.1 509.8 L49.7 518.9 Z" fill="#808080" fill-opacity="0.2"/>
<path d="M49.7 496.1 L52.1 496.1 L54.4 502.1 L56.8 497.2 L59.1 493.0 L61.5 493.7 L63.8 488.5 L66.2 490.9 L68.5 498.6 L70.9 495.5 L73.2 501.4 L75.6 499.3 L77.9 493.0 L80.3 493.7 L82.6 502.1 L85.0 502.8 L87.3 503.5 L89.7 493.7 L92.0 494.5 L94.4 506.2 L96.7 498.3 L99.1 503.4 L101.4 499.5 L103.8 502.2 L106.1 500.4 L108.5 504.0 L110.8 500.0 L113.2 507.4 L115.5 502.2 L117.8 502.8 L120.2 497.1 L122.5 490.0 L124.9 501.1 L127.2 507.9 L129.6 501.1 L131.9 506.2 L134.3 502.8 L136.6 500.8 L139.0 504.5 L141.3 502.8 L143.7 513.0 L146.0 517.0 L148.4 510.2 L150.7 508.5 L153.1 513.0 L155.4 497.0 L157.8 509.0 L160.1 510.2 L162.5 506.2 L164.8 501.0 L167.2 509.6 L169.5 512.5 L171.9 514.8 L174.2 496.0 L176.6 506.8" fill="none" stroke="#6c6c6c" stroke-width="1.08" stroke-linejoin="round" stroke-linecap="square"/>
<path d="M96.7 507.9 L99.1 523.9 L101.4 496.5 L103.8 521.0 L106.1 511.9 L108.5 504.5 L110.8 496.5 L113.2 488.0 L115.5 487.4 L117.8 508.5 L120.2 510.8 L122.5 510.8 L124.9 490.8 L127.2 543.3 L129.6 508.5 L131.9 517.6 L134.3 485.7 L136.6 486.8 L139.0 514.2 L141.3 502.8 L143.7 513.0 L146.0 508.5 L148.4 513.0 L150.7 518.8 L153.1 487.4 L155.4 520.0 L157.8 499.0 L160.1 539.3 L162.5 512.0 L164.8 524.5 L167.2 542.7 L169.5 517.6 L171.9 505.7 L174.2 509.0 L176.6 515.3" fill="none" stroke="#f5796a" stroke-width="1.22" stroke-linejoin="round" stroke-linecap="square"/>
<path d="M96.7 512.0 L99.1 521.0 L101.4 505.0 L103.8 514.0 L106.1 509.0 L108.5 503.0 L110.8 499.0 L113.2 500.0 L115.5 491.4 L117.8 506.0 L120.2 518.8 L122.5 513.0 L124.9 500.5 L127.2 491.4 L129.6 486.8 L131.9 492.5 L134.3 508.5 L136.6 506.0 L139.0 508.5 L141.3 504.0 L143.7 508.5 L146.0 510.8 L148.4 514.2 L150.7 506.0 L153.1 500.5 L155.4 514.0 L157.8 497.0 L160.1 510.8 L162.5 508.5 L164.8 502.8 L167.2 497.0 L169.5 507.0 L171.9 500.5 L174.2 491.4 L176.6 508.5" fill="none" stroke="#f5796a" stroke-width="1.22" stroke-linejoin="round" stroke-dasharray="7.3 1.8 1.15 1.8"/>
</g>
<path d="M43.40 460.2 V596.50 H182.9" fill="none" stroke="#4a4a4a" stroke-width="0.85"/>
<line x1="61.48" y1="596.5" x2="61.48" y2="599.3" stroke="#4a4a4a" stroke-width="0.8"/>
<text x="61.4" y="608.7" font-size="10.7" text-anchor="middle" fill="#1a1a1a" textLength="23.6" lengthAdjust="spacingAndGlyphs">2020</text>
<line x1="108.45" y1="596.5" x2="108.45" y2="599.3" stroke="#4a4a4a" stroke-width="0.8"/>
<text x="108.4" y="608.7" font-size="10.7" text-anchor="middle" fill="#1a1a1a" textLength="23.6" lengthAdjust="spacingAndGlyphs">2040</text>
<line x1="155.42" y1="596.5" x2="155.42" y2="599.3" stroke="#4a4a4a" stroke-width="0.8"/>
<text x="155.3" y="608.7" font-size="10.7" text-anchor="middle" fill="#1a1a1a" textLength="23.6" lengthAdjust="spacingAndGlyphs">2060</text>
<line x1="40.6" y1="490.30" x2="43.4" y2="490.30" stroke="#4a4a4a" stroke-width="0.8"/>
<text x="38.0" y="494.2" font-size="10.1" text-anchor="end" fill="#1a1a1a" textLength="11.4" lengthAdjust="spacingAndGlyphs">20</text>
<line x1="40.6" y1="526.50" x2="43.4" y2="526.50" stroke="#4a4a4a" stroke-width="0.8"/>
<text x="38.0" y="530.4" font-size="10.1" text-anchor="end" fill="#1a1a1a" textLength="11.4" lengthAdjust="spacingAndGlyphs">19</text>
<line x1="40.6" y1="563.00" x2="43.4" y2="563.00" stroke="#4a4a4a" stroke-width="0.8"/>
<text x="38.0" y="566.9" font-size="10.1" text-anchor="end" fill="#1a1a1a" textLength="11.4" lengthAdjust="spacingAndGlyphs">18</text>
<text x="50.7" y="473.4" font-size="10.1" fill="#1a1a1a" textLength="9.1" lengthAdjust="spacingAndGlyphs">(j)</text>
<text transform="translate(21.0 528.4) rotate(-90)" font-size="9.7" text-anchor="middle" fill="#1a1a1a" textLength="70.2" lengthAdjust="spacingAndGlyphs">Amplitude (°C)</text>
</g>
<g id="p_k">
<clipPath id="c_k"><rect x="195.3" y="460.2" width="139.5" height="136.3"/></clipPath>
<g clip-path="url(#c_k)">
<line x1="213.43" y1="460.2" x2="213.43" y2="596.5" stroke="#c4c4c4" stroke-width="0.66" stroke-dasharray="1.7 1.25"/>
<line x1="260.40" y1="460.2" x2="260.40" y2="596.5" stroke="#c4c4c4" stroke-width="0.66" stroke-dasharray="1.7 1.25"/>
<line x1="307.37" y1="460.2" x2="307.37" y2="596.5" stroke="#c4c4c4" stroke-width="0.66" stroke-dasharray="1.7 1.25"/>
<line x1="195.3" y1="490.30" x2="334.9" y2="490.30" stroke="#c4c4c4" stroke-width="0.66" stroke-dasharray="1.7 1.25"/>
<line x1="195.3" y1="526.50" x2="334.9" y2="526.50" stroke="#c4c4c4" stroke-width="0.66" stroke-dasharray="1.7 1.25"/>
<line x1="195.3" y1="563.00" x2="334.9" y2="563.00" stroke="#c4c4c4" stroke-width="0.66" stroke-dasharray="1.7 1.25"/>
<path d="M201.7 571.0 L204.0 548.1 L206.4 546.0 L208.7 541.8 L211.1 542.5 L213.4 547.4 L215.8 546.0 L218.1 555.1 L220.5 552.3 L222.8 555.1 L225.2 544.6 L227.5 549.5 L229.9 527.8 L232.2 538.3 L234.6 546.0 L236.9 539.0 L239.3 534.1 L241.6 550.9 L244.0 542.5 L246.3 542.5 L248.7 547.5 L251.0 543.0 L253.4 539.0 L255.7 543.0 L258.1 546.0 L260.4 542.0 L262.8 545.0 L265.1 546.5 L267.4 547.0 L269.8 537.0 L272.1 548.0 L274.5 543.0 L276.8 537.5 L279.2 550.0 L281.5 554.0 L283.9 555.0 L286.2 552.0 L288.6 549.0 L290.9 546.0 L293.3 552.0 L295.6 556.0 L298.0 552.0 L300.3 540.5 L302.7 553.0 L305.0 560.0 L307.4 555.0 L309.7 554.0 L312.1 552.0 L314.4 554.0 L316.8 550.0 L319.1 545.5 L321.5 549.0 L323.8 552.0 L326.2 547.5 L328.5 549.5 L328.5 585.0 L326.2 577.0 L323.8 575.0 L321.5 573.0 L319.1 577.0 L316.8 579.0 L314.4 578.0 L312.1 590.5 L309.7 577.0 L307.4 575.0 L305.0 578.0 L302.7 575.0 L300.3 578.0 L298.0 576.0 L295.6 570.0 L293.3 569.0 L290.9 574.0 L288.6 572.0 L286.2 570.0 L283.9 570.0 L281.5 569.0 L279.2 566.0 L276.8 575.0 L274.5 568.0 L272.1 579.0 L269.8 572.0 L267.4 566.0 L265.1 565.0 L262.8 564.0 L260.4 568.0 L258.1 581.0 L255.7 568.0 L253.4 562.0 L251.0 567.0 L248.7 565.0 L246.3 561.0 L244.0 562.1 L241.6 561.4 L239.3 557.2 L236.9 560.0 L234.6 569.8 L232.2 567.0 L229.9 565.6 L227.5 564.2 L225.2 576.8 L222.8 575.4 L220.5 572.6 L218.1 571.2 L215.8 567.0 L213.4 561.4 L211.1 565.6 L208.7 578.9 L206.4 564.2 L204.0 565.6 L201.7 578.9 Z" fill="#808080" fill-opacity="0.2"/>
<path d="M201.7 575.1 L204.0 556.5 L206.4 553.7 L208.7 554.4 L211.1 551.3 L213.4 552.3 L215.8 555.5 L218.1 564.5 L220.5 560.7 L222.8 562.5 L225.2 558.6 L227.5 555.8 L229.9 549.9 L232.2 553.0 L234.6 560.0 L236.9 550.2 L239.3 549.9 L241.6 556.5 L244.0 554.4 L246.3 552.4 L248.7 558.5 L251.0 559.4 L253.4 551.0 L255.7 561.0 L258.1 561.5 L260.4 556.5 L262.8 554.5 L265.1 555.4 L267.4 556.5 L269.8 559.5 L272.1 562.5 L274.5 556.5 L276.8 557.5 L279.2 560.5 L281.5 562.0 L283.9 557.5 L286.2 558.5 L288.6 564.5 L290.9 562.0 L293.3 560.0 L295.6 557.5 L298.0 562.5 L300.3 562.0 L302.7 563.5 L305.0 567.0 L307.4 564.0 L309.7 562.5 L312.1 569.0 L314.4 567.0 L316.8 566.0 L319.1 563.5 L321.5 563.5 L323.8 562.0 L326.2 558.0 L328.5 571.0" fill="none" stroke="#6c6c6c" stroke-width="1.08" stroke-linejoin="round" stroke-linecap="square"/>
<path d="M248.7 575.0 L251.0 583.0 L253.4 556.5 L255.7 559.5 L258.1 565.0 L260.4 568.0 L262.8 557.5 L265.1 562.0 L267.4 570.0 L269.8 583.0 L272.1 546.0 L274.5 558.0 L276.8 582.0 L279.2 563.0 L281.5 564.0 L283.9 582.0 L286.2 554.0 L288.6 558.0 L290.9 548.0 L293.3 569.0 L295.6 568.0 L298.0 552.0 L300.3 579.0 L302.7 565.0 L305.0 579.0 L307.4 541.5 L309.7 551.0 L312.1 552.0 L314.4 569.0 L316.8 550.5 L319.1 561.0 L321.5 554.0 L323.8 571.0 L326.2 553.0 L328.5 568.0" fill="none" stroke="#85ccf5" stroke-width="1.22" stroke-linejoin="round" stroke-linecap="square"/>
<path d="M248.7 575.0 L251.0 570.0 L253.4 560.0 L255.7 568.0 L258.1 564.0 L260.4 570.0 L262.8 563.0 L265.1 566.0 L267.4 556.0 L269.8 559.0 L272.1 545.0 L274.5 548.0 L276.8 560.0 L279.2 564.0 L281.5 561.0 L283.9 560.0 L286.2 556.0 L288.6 554.0 L290.9 545.0 L293.3 544.0 L295.6 556.0 L298.0 550.0 L300.3 570.0 L302.7 563.0 L305.0 572.0 L307.4 557.0 L309.7 558.0 L312.1 553.0 L314.4 561.0 L316.8 555.0 L319.1 553.0 L321.5 565.0 L323.8 560.0 L326.2 548.0 L328.5 550.0" fill="none" stroke="#85ccf5" stroke-width="1.22" stroke-linejoin="round" stroke-dasharray="7.3 1.8 1.15 1.8"/>
</g>
<path d="M195.35 460.2 V596.50 H334.9" fill="none" stroke="#4a4a4a" stroke-width="0.85"/>
<line x1="213.43" y1="596.5" x2="213.43" y2="599.3" stroke="#4a4a4a" stroke-width="0.8"/>
<text x="213.3" y="608.7" font-size="10.7" text-anchor="middle" fill="#1a1a1a" textLength="23.6" lengthAdjust="spacingAndGlyphs">2020</text>
<line x1="260.40" y1="596.5" x2="260.40" y2="599.3" stroke="#4a4a4a" stroke-width="0.8"/>
<text x="260.3" y="608.7" font-size="10.7" text-anchor="middle" fill="#1a1a1a" textLength="23.6" lengthAdjust="spacingAndGlyphs">2040</text>
<line x1="307.37" y1="596.5" x2="307.37" y2="599.3" stroke="#4a4a4a" stroke-width="0.8"/>
<text x="307.3" y="608.7" font-size="10.7" text-anchor="middle" fill="#1a1a1a" textLength="23.6" lengthAdjust="spacingAndGlyphs">2060</text>
<line x1="192.6" y1="490.30" x2="195.3" y2="490.30" stroke="#4a4a4a" stroke-width="0.8"/>
<line x1="192.6" y1="526.50" x2="195.3" y2="526.50" stroke="#4a4a4a" stroke-width="0.8"/>
<line x1="192.6" y1="563.00" x2="195.3" y2="563.00" stroke="#4a4a4a" stroke-width="0.8"/>
<text x="202.7" y="473.4" font-size="10.1" fill="#1a1a1a" textLength="11.7" lengthAdjust="spacingAndGlyphs">(k)</text>
</g>
<g id="p_l">
<clipPath id="c_l"><rect x="347.0" y="460.2" width="139.5" height="136.3"/></clipPath>
<g clip-path="url(#c_l)">
<line x1="371.99" y1="460.2" x2="371.99" y2="596.5" stroke="#c4c4c4" stroke-width="0.66" stroke-dasharray="1.7 1.25"/>
<line x1="409.29" y1="460.2" x2="409.29" y2="596.5" stroke="#c4c4c4" stroke-width="0.66" stroke-dasharray="1.7 1.25"/>
<line x1="446.59" y1="460.2" x2="446.59" y2="596.5" stroke="#c4c4c4" stroke-width="0.66" stroke-dasharray="1.7 1.25"/>
<line x1="483.89" y1="460.2" x2="483.89" y2="596.5" stroke="#c4c4c4" stroke-width="0.66" stroke-dasharray="1.7 1.25"/>
<line x1="347.0" y1="490.30" x2="486.5" y2="490.30" stroke="#c4c4c4" stroke-width="0.66" stroke-dasharray="1.7 1.25"/>
<line x1="347.0" y1="526.50" x2="486.5" y2="526.50" stroke="#c4c4c4" stroke-width="0.66" stroke-dasharray="1.7 1.25"/>
<line x1="347.0" y1="563.00" x2="486.5" y2="563.00" stroke="#c4c4c4" stroke-width="0.66" stroke-dasharray="1.7 1.25"/>
<path d="M353.3 467.6 L357.1 487.2 L360.8 489.7 L364.5 483.0 L368.3 503.3 L372.0 481.6 L375.7 492.1 L379.5 480.2 L383.2 488.6 L386.9 499.8 L390.6 499.1 L394.4 504.7 L398.1 499.1 L401.8 493.5 L405.6 491.4 L409.3 497.0 L413.0 507.0 L416.8 489.0 L420.5 505.5 L424.2 472.5 L427.9 502.5 L431.7 486.0 L435.4 513.8 L439.1 494.3 L442.9 472.5 L446.6 493.5 L450.3 519.8 L454.0 500.3 L457.8 504.8 L461.5 501.0 L465.2 502.5 L469.0 493.5 L472.7 501.0 L476.4 506.3 L480.2 484.5" fill="none" stroke="#808080" stroke-width="1.08" stroke-linejoin="round" stroke-linecap="square"/>
<path d="M353.3 485.8 L357.1 495.6 L360.8 506.8 L364.5 469.7 L368.3 494.2 L372.0 505.4 L375.7 518.0 L379.5 507.5 L383.2 495.6 L386.9 494.9 L390.6 513.8 L394.4 504.0 L398.1 497.0 L401.8 504.0 L405.6 494.9 L409.3 495.6 L413.0 502.0 L416.8 483.8 L420.5 505.5 L424.2 505.5 L427.9 496.5 L431.7 494.3 L435.4 492.8 L439.1 514.5 L442.9 510.8 L446.6 522.8 L450.3 503.3 L454.0 511.5 L457.8 528.0 L461.5 519.8 L465.2 515.3 L469.0 498.8 L472.7 504.0 L476.4 519.8 L480.2 500.3" fill="none" stroke="#2e8b57" stroke-width="1.22" stroke-linejoin="round" stroke-linecap="square"/>
<path d="M353.3 486.5 L357.1 495.6 L360.8 497.0 L364.5 493.5 L368.3 499.8 L372.0 501.9 L375.7 491.4 L379.5 504.0 L383.2 482.3 L386.9 483.0 L390.6 517.3 L394.4 502.6 L398.1 496.3 L401.8 471.1 L405.6 506.1 L409.3 494.2 L413.0 494.5 L416.8 516.8 L420.5 496.5 L424.2 508.5 L427.9 494.3 L431.7 504.8 L435.4 499.5 L439.1 500.3 L442.9 492.0 L446.6 496.5 L450.3 505.5 L454.0 495.8 L457.8 490.5 L461.5 496.5 L465.2 510.0 L469.0 501.8 L472.7 498.8 L476.4 502.5 L480.2 500.3" fill="none" stroke="#2e8b57" stroke-width="1.22" stroke-linejoin="round" stroke-dasharray="7.3 1.8 1.15 1.8"/>
</g>
<path d="M347.00 460.2 V596.50 H486.5" fill="none" stroke="#4a4a4a" stroke-width="0.85"/>
<line x1="371.99" y1="596.5" x2="371.99" y2="599.3" stroke="#4a4a4a" stroke-width="0.8"/>
<text x="371.9" y="608.7" font-size="10.7" text-anchor="middle" fill="#1a1a1a" textLength="23.6" lengthAdjust="spacingAndGlyphs">2040</text>
<line x1="409.29" y1="596.5" x2="409.29" y2="599.3" stroke="#4a4a4a" stroke-width="0.8"/>
<text x="409.2" y="608.7" font-size="10.7" text-anchor="middle" fill="#1a1a1a" textLength="23.6" lengthAdjust="spacingAndGlyphs">2050</text>
<line x1="446.59" y1="596.5" x2="446.59" y2="599.3" stroke="#4a4a4a" stroke-width="0.8"/>
<text x="446.5" y="608.7" font-size="10.7" text-anchor="middle" fill="#1a1a1a" textLength="23.6" lengthAdjust="spacingAndGlyphs">2060</text>
<line x1="483.89" y1="596.5" x2="483.89" y2="599.3" stroke="#4a4a4a" stroke-width="0.8"/>
<text x="483.8" y="608.7" font-size="10.7" text-anchor="middle" fill="#1a1a1a" textLength="23.6" lengthAdjust="spacingAndGlyphs">2070</text>
<line x1="344.2" y1="490.30" x2="347.0" y2="490.30" stroke="#4a4a4a" stroke-width="0.8"/>
<line x1="344.2" y1="526.50" x2="347.0" y2="526.50" stroke="#4a4a4a" stroke-width="0.8"/>
<line x1="344.2" y1="563.00" x2="347.0" y2="563.00" stroke="#4a4a4a" stroke-width="0.8"/>
<text x="354.3" y="473.4" font-size="10.1" fill="#1a1a1a" textLength="9.1" lengthAdjust="spacingAndGlyphs">(l)</text>
</g>
<rect x="92.6" y="112.2" width="85.9" height="25.1" rx="1.9" fill="#fff" fill-opacity="0.8" stroke="#cccccc" stroke-width="0.8"/>
<line x1="96.0" y1="119.0" x2="110.6" y2="119.0" stroke="#f5796a" stroke-width="1.22" stroke-linecap="square"/>
<text x="117.3" y="121.5" font-size="8.2" fill="#1a1a1a" textLength="58.6" lengthAdjust="spacingAndGlyphs">UKESM1; 13km</text>
<line x1="96.0" y1="130.6" x2="110.6" y2="130.6" stroke="#f5796a" stroke-width="1.22" stroke-dasharray="7.3 1.8 1.15 1.8"/>
<text x="117.3" y="133.2" font-size="8.2" fill="#1a1a1a" textLength="58.6" lengthAdjust="spacingAndGlyphs">UKESM1; 15km</text>
<rect x="217.5" y="100.5" width="112.8" height="37.0" rx="1.9" fill="#fff" fill-opacity="0.8" stroke="#cccccc" stroke-width="0.8"/>
<line x1="220.9" y1="107.0" x2="236.1" y2="107.0" stroke="#85ccf5" stroke-width="1.22" stroke-linecap="square"/>
<text x="242.2" y="109.5" font-size="8.2" fill="#1a1a1a" textLength="85.4" lengthAdjust="spacingAndGlyphs">CESM2-WACCM; 13km</text>
<line x1="220.9" y1="118.9" x2="236.1" y2="118.9" stroke="#85ccf5" stroke-width="1.22" stroke-dasharray="7.3 1.8 1.15 1.8"/>
<text x="242.2" y="121.5" font-size="8.2" fill="#1a1a1a" textLength="85.4" lengthAdjust="spacingAndGlyphs">CESM2-WACCM; 15km</text>
<line x1="220.9" y1="130.7" x2="236.1" y2="130.7" stroke="#6c6c6c" stroke-width="1.08" stroke-linecap="square"/>
<text x="242.2" y="133.2" font-size="8.2" fill="#1a1a1a" textLength="34.2" lengthAdjust="spacingAndGlyphs">SSP2-4.5</text>
<rect x="397.2" y="112.2" width="84.7" height="25.4" rx="1.9" fill="#fff" fill-opacity="0.8" stroke="#cccccc" stroke-width="0.8"/>
<line x1="400.8" y1="118.9" x2="416.2" y2="118.9" stroke="#2e8b57" stroke-width="1.22" stroke-linecap="square"/>
<text x="422.2" y="121.5" font-size="8.2" fill="#1a1a1a" textLength="57.6" lengthAdjust="spacingAndGlyphs">E3SMv3; 13km</text>
<line x1="400.8" y1="130.5" x2="416.2" y2="130.5" stroke="#2e8b57" stroke-width="1.22" stroke-dasharray="7.3 1.8 1.15 1.8"/>
<text x="422.2" y="133.1" font-size="8.2" fill="#1a1a1a" textLength="57.6" lengthAdjust="spacingAndGlyphs">E3SMv3; 15km</text>
</g>
</svg>
</body></html>
